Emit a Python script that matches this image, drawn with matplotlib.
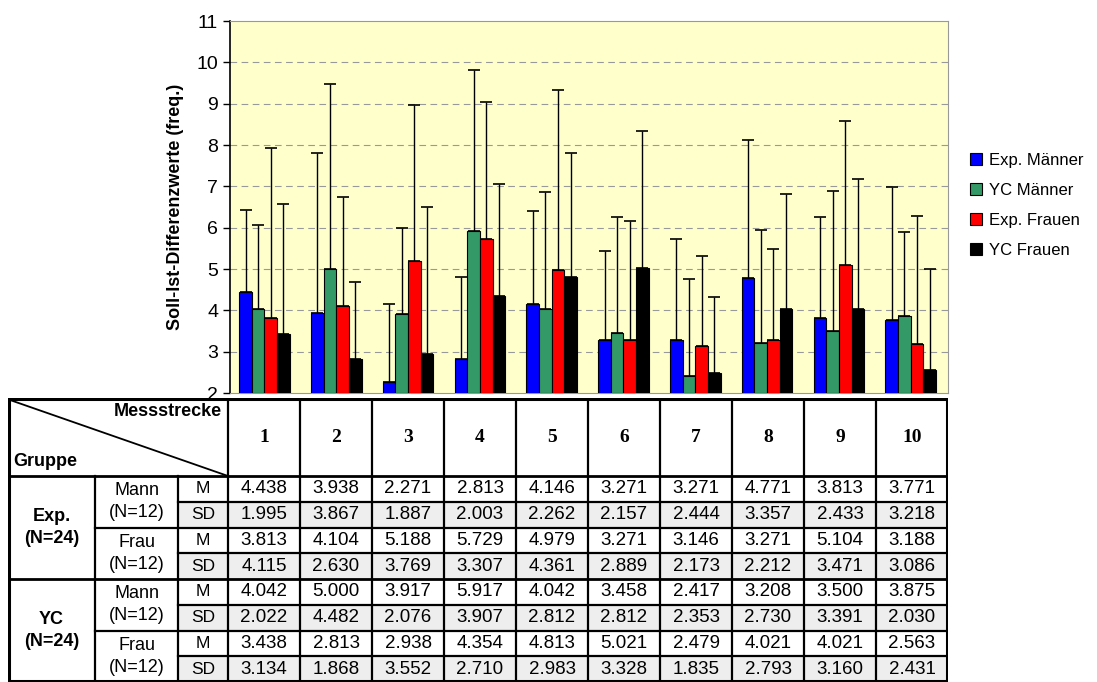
import numpy as np
import matplotlib
matplotlib.use("Agg")
import matplotlib.pyplot as plt
from matplotlib.patches import Rectangle

plt.rcParams["font.family"] = ["Liberation Sans", "DejaVu Sans"]

strecken = ["1", "2", "3", "4", "5", "6", "7", "8", "9", "10"]
series_names = ["Exp. Männer", "YC Männer", "Exp. Frauen", "YC Frauen"]
colors = ["#0000ff", "#339966", "#ff0000", "#000000"]

exp_mann_m = [4.438, 3.938, 2.271, 2.813, 4.146, 3.271, 3.271, 4.771, 3.813, 3.771]
exp_mann_sd = [1.995, 3.867, 1.887, 2.003, 2.262, 2.157, 2.444, 3.357, 2.433, 3.218]
exp_frau_m = [3.813, 4.104, 5.188, 5.729, 4.979, 3.271, 3.146, 3.271, 5.104, 3.188]
exp_frau_sd = [4.115, 2.630, 3.769, 3.307, 4.361, 2.889, 2.173, 2.212, 3.471, 3.086]
yc_mann_m = [4.042, 5.000, 3.917, 5.917, 4.042, 3.458, 2.417, 3.208, 3.500, 3.875]
yc_mann_sd = [2.022, 4.482, 2.076, 3.907, 2.812, 2.812, 2.353, 2.730, 3.391, 2.030]
yc_frau_m = [3.438, 2.813, 2.938, 4.354, 4.813, 5.021, 2.479, 4.021, 4.021, 2.563]
yc_frau_sd = [3.134, 1.868, 3.552, 2.710, 2.983, 3.328, 1.835, 2.793, 3.160, 2.431]

# bar order in chart
means = [exp_mann_m, yc_mann_m, exp_frau_m, yc_frau_m]
sds = [exp_mann_sd, yc_mann_sd, exp_frau_sd, yc_frau_sd]

W, H = 1097, 682
fig = plt.figure(figsize=(W / 100, H / 100), dpi=100)

# ---- chart ----
ax = fig.add_axes([230 / W, (H - 393) / H, (948 - 230) / W, (393 - 21) / H])
ax.set_facecolor("#ffffcc")
x = np.arange(1, 11)
w = 0.176
for k in range(4):
    pos = x + (k - 1.5) * w - 0.02
    ax.bar(pos, np.array(means[k]) - 2, bottom=2, width=w, color=colors[k],
           edgecolor="black", linewidth=0.8, label=series_names[k], zorder=3)
    ax.errorbar(pos, means[k], yerr=[np.zeros(10), sds[k]], fmt="none",
                ecolor="black", elinewidth=1, capsize=4, capthick=1.2, zorder=2)

ax.set_xlim(0.5, 10.5)
ax.set_ylim(2, 11)
ax.set_yticks(range(2, 12))
ax.set_xticks([])
ax.tick_params(axis="y", labelsize=14, length=5, width=1)
for yv in range(3, 11):
    ax.axhline(yv, color="#999999", linestyle=(0, (6, 4)), linewidth=0.8, zorder=1)
ax.spines["left"].set_color("black")
ax.spines["left"].set_linewidth(1.2)
for s in ["top", "right", "bottom"]:
    ax.spines[s].set_color("#999999")
ax.set_ylabel("Soll-Ist-Differenzwerte (freq.)", fontsize=13, fontweight="bold",
              labelpad=9)

ax.legend(loc="center left", bbox_to_anchor=(1.01, 0.505), frameon=False,
          fontsize=12, handlelength=0.7, handleheight=0.7, labelspacing=0.9,
          handletextpad=0.4)

# ---- table ----
tx0, ty0, tx1, ty1 = 8, 398, 948, 682
tab = fig.add_axes([tx0 / W, (H - ty1) / H, (tx1 - tx0) / W, (ty1 - ty0) / H])
tab.set_xlim(tx0, tx1)
tab.set_ylim(ty1, ty0)
tab.axis("off")

col_edges = [8, 95, 178, 228] + [228 + 72 * i for i in range(1, 11)]
head_bot = 476
row_h = (ty1 - head_bot) / 8
row_edges = [head_bot + row_h * i for i in range(9)]

table_rows = [exp_mann_m, exp_mann_sd, exp_frau_m, exp_frau_sd,
              yc_mann_m, yc_mann_sd, yc_frau_m, yc_frau_sd]

# shading for SD rows
for r in range(8):
    if r % 2 == 1:
        tab.add_patch(Rectangle((col_edges[2], row_edges[r]), tx1 - col_edges[2], row_h,
                                facecolor="#eeeeee", edgecolor="none"))

lw = 1.6
# outer border
tab.add_patch(Rectangle((tx0 + 1, ty0 + 1), tx1 - tx0 - 2, ty1 - ty0 - 2,
                        facecolor="none", edgecolor="black", linewidth=2.2))
# header vertical lines
for cx in col_edges[3:-1]:
    tab.plot([cx, cx], [ty0, ty1], color="black", lw=lw)
tab.plot([col_edges[1], col_edges[1]], [head_bot, ty1], color="black", lw=lw)
tab.plot([col_edges[2], col_edges[2]], [head_bot, ty1], color="black", lw=lw)
# horizontal lines
tab.plot([tx0, tx1], [head_bot, head_bot], color="black", lw=2)
for r in range(1, 8):
    yv = row_edges[r]
    if r == 4:
        tab.plot([tx0, tx1], [yv, yv], color="black", lw=2)
    elif r % 2 == 0:
        tab.plot([col_edges[1], tx1], [yv, yv], color="black", lw=lw)
    else:
        tab.plot([col_edges[2], tx1], [yv, yv], color="black", lw=lw)
# diagonal
tab.plot([tx0 + 2, col_edges[3]], [ty0 + 2, head_bot], color="black", lw=1.3)
tab.text(col_edges[3] - 6, ty0 + 13, "Messstrecke", ha="right", va="center",
         fontsize=13, fontweight="bold")
tab.text(tx0 + 5, head_bot - 14, "Gruppe", ha="left", va="center",
         fontsize=13, fontweight="bold")

for i, lab in enumerate(strecken):
    cx = (col_edges[3 + i] + col_edges[4 + i]) / 2
    tab.text(cx, (ty0 + head_bot) / 2, lab, ha="center", va="center",
             fontsize=14, fontweight="bold", family="Liberation Serif")

groups = ["Exp.\n(N=24)", "YC\n(N=24)"]
sexes = ["Mann\n(N=12)", "Frau\n(N=12)"]
stats = ["M", "SD"]
for g in range(2):
    yc = (row_edges[4 * g] + row_edges[4 * g + 4]) / 2
    tab.text((col_edges[0] + col_edges[1]) / 2, yc, groups[g], ha="center",
             va="center", fontsize=13, fontweight="bold", linespacing=1.4)
    for s in range(2):
        ys = (row_edges[4 * g + 2 * s] + row_edges[4 * g + 2 * s + 2]) / 2
        tab.text((col_edges[1] + col_edges[2]) / 2, ys, sexes[s], ha="center",
                 va="center", fontsize=13, linespacing=1.35)

for r, vals in enumerate(table_rows):
    yc = (row_edges[r] + row_edges[r + 1]) / 2
    tab.text((col_edges[2] + col_edges[3]) / 2, yc, stats[r % 2], ha="center",
             va="center", fontsize=12.5)
    for i, v in enumerate(vals):
        cx = (col_edges[3 + i] + col_edges[4 + i]) / 2
        tab.text(cx, yc, f"{v:.3f}", ha="center", va="center", fontsize=13.5)

fig.savefig("out.png", dpi=100)
